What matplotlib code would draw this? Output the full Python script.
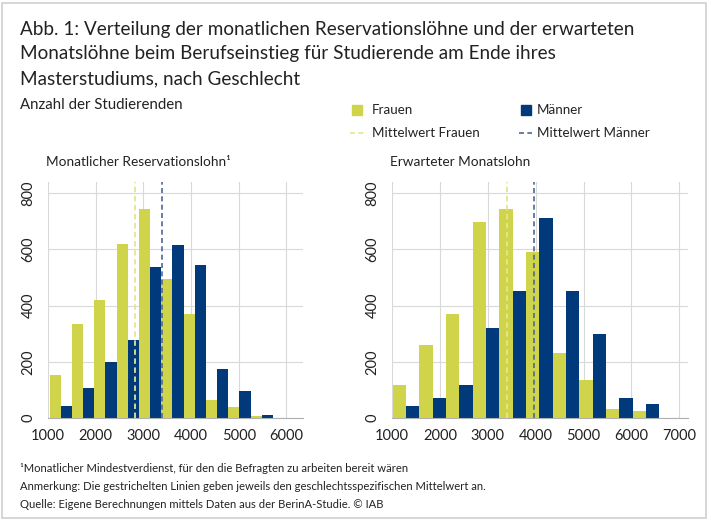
import matplotlib
matplotlib.use("Agg")
import matplotlib.pyplot as plt
from matplotlib.patches import Rectangle
from matplotlib.lines import Line2D

plt.rcParams['font.family'] = ['Lato', 'DejaVu Sans']

# Reservationslohn (linkes Panel)
res_bins = [1035, 1503, 1971, 2439, 2907, 3375, 3843, 4311, 4779, 5247]
res_width = 468
res_frauen = [152, 335, 421, 618, 743, 495, 370, 64, 38, 7]
res_maenner = [44, 107, 199, 277, 539, 615, 543, 174, 96, 12]
res_mean_frauen = 2832
res_mean_maenner = 3385

# Erwarteter Monatslohn (rechtes Panel)
erw_bins = [1014, 1571, 2128, 2685, 3242, 3799, 4356, 4913, 5470, 6027]
erw_width = 557
erw_frauen = [117, 261, 370, 698, 743, 590, 231, 136, 33, 25]
erw_maenner = [44, 72, 118, 320, 453, 713, 453, 300, 71, 51]
erw_mean_frauen = 3401
erw_mean_maenner = 3965

c_frauen = '#cfd44a'
c_maenner = '#003a7a'
c_mean_f = '#e4e68e'
c_mean_m = '#4d6797'
grid_c = '#d9d9d9'
text_c = '#222222'

W, H = 711, 521
fig = plt.figure(figsize=(W / 100, H / 100), dpi=100)


def fx(px):
    return px / W


def fy(py):
    return 1 - py / H


fig.patches.append(Rectangle((fx(2), fy(518)), fx(704), 515 / H, transform=fig.transFigure,
                             fill=False, edgecolor='#d0d0d0', linewidth=1.2))

title_lines = ["Abb. 1: Verteilung der monatlichen Reservationslöhne und der erwarteten",
               "Monatslöhne beim Berufseinstieg für Studierende am Ende ihres",
               "Masterstudiums, nach Geschlecht"]
for i, line in enumerate(title_lines):
    fig.text(fx(20), fy(29 + 25 * i), line, fontsize=13.6, color=text_c, va='center', ha='left')
fig.text(fx(20), fy(105), "Anzahl der Studierenden", fontsize=10.8, color=text_c, va='center')

# Legende
fig.patches.append(Rectangle((fx(352), fy(115)), fx(10), 10 / H, transform=fig.transFigure,
                             color=c_frauen))
fig.patches.append(Rectangle((fx(521), fy(115)), fx(10), 10 / H, transform=fig.transFigure,
                             color=c_maenner))
fig.text(fx(372), fy(110), "Frauen", fontsize=9.6, color=text_c, va='center')
fig.text(fx(537), fy(110), "Männer", fontsize=9.6, color=text_c, va='center')
fig.lines.append(Line2D([fx(350), fx(365)], [fy(133), fy(133)], transform=fig.transFigure,
                        color=c_mean_f, linestyle=(0, (3, 2)), linewidth=1.2))
fig.lines.append(Line2D([fx(519), fx(532)], [fy(133), fy(133)], transform=fig.transFigure,
                        color=c_mean_m, linestyle=(0, (3, 2)), linewidth=1.2))
fig.text(fx(372), fy(133), "Mittelwert Frauen", fontsize=9.6, color=text_c, va='center')
fig.text(fx(537), fy(133), "Mittelwert Männer", fontsize=9.6, color=text_c, va='center')


def panel(left_px, right_px, xmax, bins, width, frauen, maenner, mean_f, mean_m, ticks, label, label_x):
    ax = fig.add_axes([fx(left_px), fy(418), fx(right_px - left_px), (418 - 182) / H])
    half = width / 2
    ax.bar(bins, frauen, width=half, align='edge', color=c_frauen, zorder=2)
    ax.bar([b + half for b in bins], maenner, width=half, align='edge', color=c_maenner, zorder=2)
    ax.axvline(mean_f, color=c_mean_f, linestyle=(0, (3, 2)), linewidth=1.3, zorder=3)
    ax.axvline(mean_m, color=c_mean_m, linestyle=(0, (3, 2)), linewidth=1.2, zorder=3)
    ax.set_xlim(1000, xmax)
    ax.set_ylim(0, 840)
    ax.set_xticks(ticks)
    ax.set_yticks([0, 200, 400, 600, 800])
    ax.grid(True, color=grid_c, linewidth=0.8, zorder=0)
    ax.set_axisbelow(True)
    for s in ['top', 'right', 'left']:
        ax.spines[s].set_visible(False)
    ax.spines['bottom'].set_color('#b0b0b0')
    ax.tick_params(axis='both', length=0, labelsize=10.5, colors=text_c)
    ax.tick_params(axis='x', pad=8)
    ax.tick_params(axis='y', pad=9)
    for t in ax.get_yticklabels():
        t.set_rotation(90)
        t.set_va('center')
    fig.text(fx(label_x), fy(162), label, fontsize=9.8, color=text_c, va='center')
    return ax


panel(48, 303, 6346, res_bins, res_width, res_frauen, res_maenner, res_mean_frauen, res_mean_maenner,
      [1000, 2000, 3000, 4000, 5000, 6000], "Monatlicher Reservationslohn¹", 46)
panel(392, 688, 7180, erw_bins, erw_width, erw_frauen, erw_maenner, erw_mean_frauen, erw_mean_maenner,
      [1000, 2000, 3000, 4000, 5000, 6000, 7000], "Erwarteter Monatslohn", 390)

notes = ["¹Monatlicher Mindestverdienst, für den die Befragten zu arbeiten bereit wären",
         "Anmerkung: Die gestrichelten Linien geben jeweils den geschlechtsspezifischen Mittelwert an.",
         "Quelle: Eigene Berechnungen mittels Daten aus der BerinA-Studie. © IAB"]
for i, n in enumerate(notes):
    fig.text(fx(20), fy(468 + 18.5 * i), n, fontsize=8.1, color=text_c, va='center')

fig.savefig("out.png", dpi=100)
